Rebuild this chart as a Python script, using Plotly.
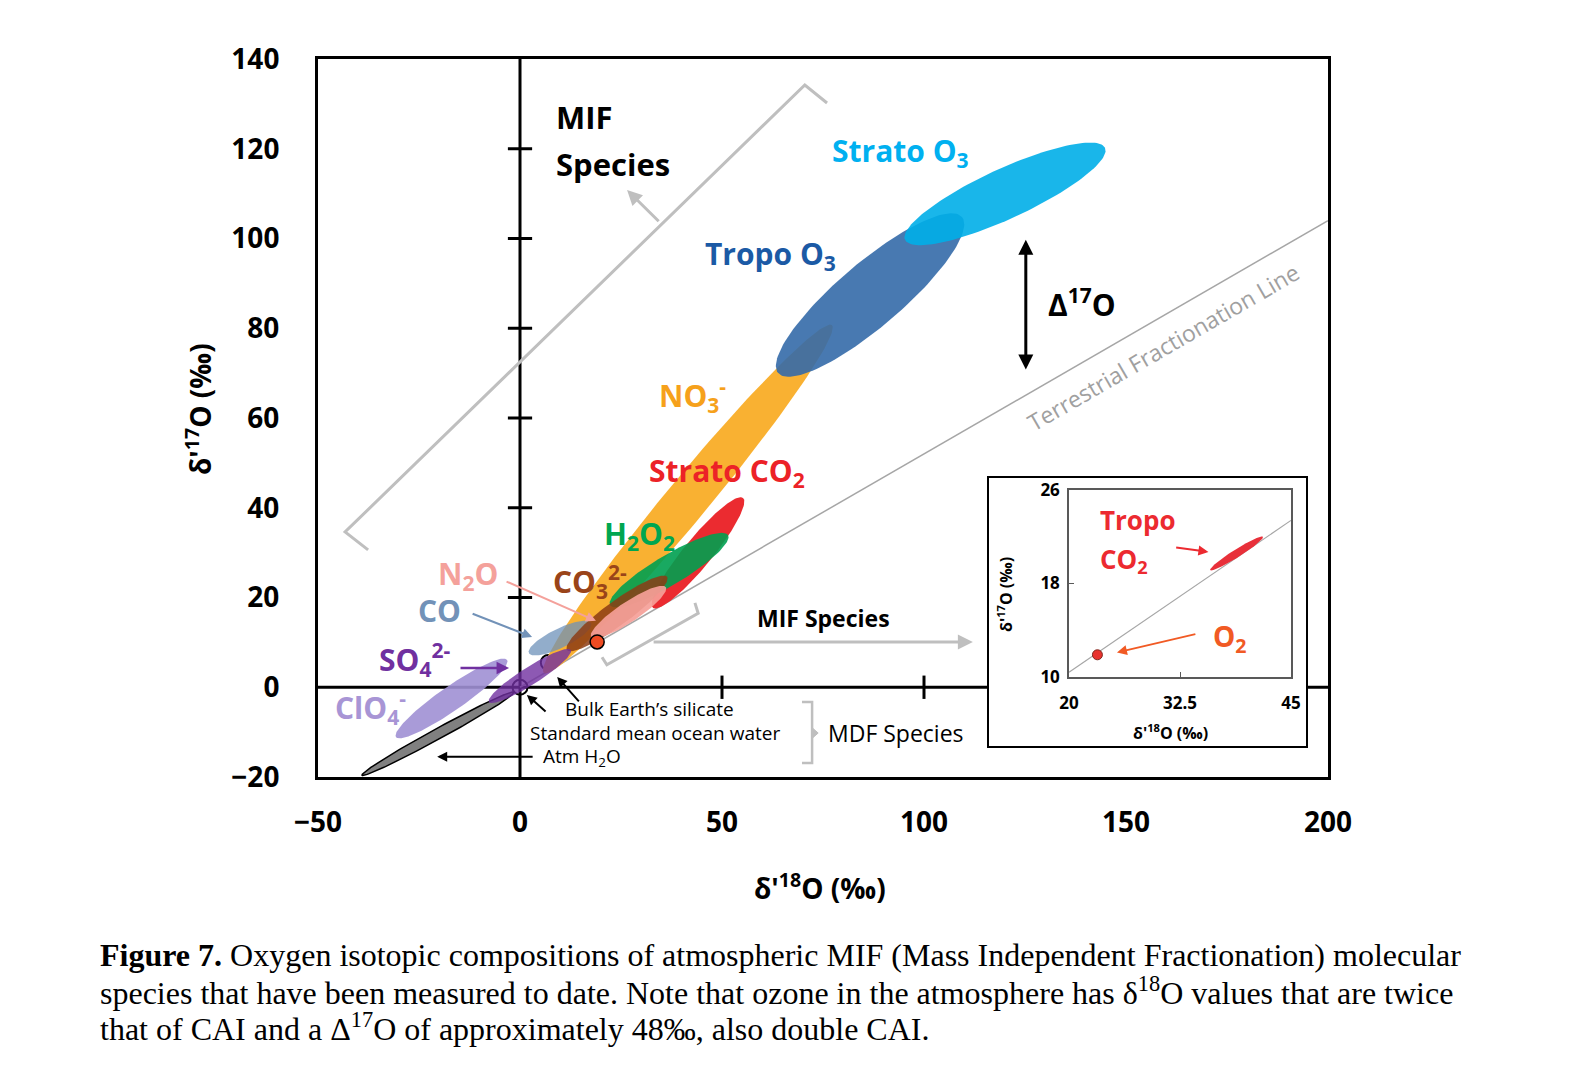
import numpy as np
import plotly.graph_objects as go

# species ellipses: major-axis end points (d18O, d17O) and half width (d18O units)
SPECIES = ["Atm H2O", "ClO4-", "NO3-", "Tropo O3", "Strato O3", "Strato CO2",
           "H2O2", "CO", "CO3 2-", "N2O", "SO4 2-"]
X_START = [-39.1, -30.7, 5.9, 63.9, 95.3, 32.9, 22.3, 2.2, 11.6, 17.6, -7.7]
Y_START = [-19.6, -11.1, 3.2, 70.0, 99.7, 17.7, 18.3, 7.6, 8.3, 11.2, -3.3]
X_END = [-1.5, -3.2, 77.2, 109.4, 144.8, 55.2, 51.5, 17.6, 36.4, 36.1, 12.6]
Y_END = [-1.1, 6.1, 80.7, 104.8, 120.2, 42.2, 33.9, 14.3, 24.6, 22.3, 8.3]
HALF_WIDTH = [1.3, 3.0, 5.2, 7.9, 6.2, 3.5, 3.7, 2.4, 3.0, 2.5, 2.2]

# reference points (SMOW, bulk earth silicate) and O2
REF_X = [0, 7]
REF_Y = [0, 5.5]
O2_X = [19.1]
O2_Y = [10.1]

# terrestrial fractionation line
TFL_X = [0, 200]
TFL_Y = [0, 104]

# inset
INSET_TFL_X = [20, 45]
INSET_TFL_Y = [10.4, 23.4]
INSET_CO2 = [35.9, 19.15, 41.85, 22.0, 0.45]
INSET_O2_X = [23.2]
INSET_O2_Y = [11.9]

X_TICKS = [-50, 0, 50, 100, 150, 200]
Y_TICKS = [-20, 0, 20, 40, 60, 80, 100, 120, 140]
AXIS_X_TICKS = [50, 100]
AXIS_Y_TICKS = [20, 40, 60, 80, 100, 120]
INSET_X_TICKS = [20, 32.5, 45]
INSET_Y_TICKS = [10, 18, 26]

# styles
FILL = ["#808080", "rgba(160,144,212,0.9)", "#F9B132", "rgba(52,106,168,0.9)",
        "rgba(0,174,232,0.9)", "#EB2B30", "rgba(0,160,80,0.9)",
        "rgba(110,145,185,0.75)", "rgba(140,60,20,0.85)",
        "rgba(245,160,152,0.92)", "rgba(112,48,160,0.8)"]
FONT = "Open Sans"

# page pixels of the plot frame; the page body adds an 8px offset
OFF = 8
PL, PR, PT, PB = 318, 1328, 59, 777
W, H = 1585 - OFF, 1092 - OFF
PW, PH = PR - PL, PB - PT
ML, MT = PL - OFF, PT - OFF
MR, MB = W - (PR - OFF), H - (PB - OFF)
K_MAIN = (PH / 160) / (PW / 250)
IN_X = [(1069 - PL) / PW, (1291 - PL) / PW]
IN_Y = [(PB - 677) / PH, (PB - 490) / PH]
K_INSET = (IN_Y[1] - IN_Y[0]) * PH / 16 / ((IN_X[1] - IN_X[0]) * PW / 25)
BOX = [(988 - PL) / PW, (PB - 747) / PH, (1307 - PL) / PW, (PB - 477) / PH]


def ellipse(x0, y0, x1, y1, hw, k, n=140):
    t = np.linspace(0, 2 * np.pi, n)
    cx, cy = (x0 + x1) / 2, (y0 + y1) / 2 * k
    ax, ay = (x1 - x0) / 2, (y1 - y0) / 2 * k
    L = np.hypot(ax, ay)
    nx, ny = -ay / L * hw, ax / L * hw
    xs = cx + ax * np.cos(t) + nx * np.sin(t)
    ys = (cy + ay * np.cos(t) + ny * np.sin(t)) / k
    return xs, ys


def paper(px, py):
    return (px - PL) / PW, (PB - py) / PH


fig = go.Figure()

fig.add_trace(go.Scatter(x=TFL_X, y=TFL_Y, mode="lines",
                         line=dict(color="#A6A6A6", width=1.5)))

for i, name in enumerate(SPECIES):
    xs, ys = ellipse(X_START[i], Y_START[i], X_END[i], Y_END[i], HALF_WIDTH[i], K_MAIN)
    line = dict(color="black", width=1.5) if name == "Atm H2O" else dict(width=0)
    fig.add_trace(go.Scatter(x=xs, y=ys, mode="lines", fill="toself",
                             fillcolor=FILL[i], line=line, name=name))
    if name == "Atm H2O":
        fig.add_trace(go.Scatter(x=REF_X, y=REF_Y, mode="markers",
                                 marker=dict(symbol="circle-open", size=15,
                                             color="black", line=dict(width=2))))

fig.add_trace(go.Scatter(x=O2_X, y=O2_Y, mode="markers",
                         marker=dict(size=14, color="#EE4B22",
                                     line=dict(color="black", width=1.5))))

# inset
fig.add_trace(go.Scatter(x=INSET_TFL_X, y=INSET_TFL_Y, mode="lines", xaxis="x2", yaxis="y2",
                         line=dict(color="#A6A6A6", width=1.2)))
xs, ys = ellipse(*INSET_CO2, K_INSET)
fig.add_trace(go.Scatter(x=xs, y=ys, mode="lines", fill="toself", xaxis="x2", yaxis="y2",
                         fillcolor="#E8303A", line=dict(width=0)))
fig.add_trace(go.Scatter(x=INSET_O2_X, y=INSET_O2_Y, mode="markers", xaxis="x2", yaxis="y2",
                         marker=dict(size=10, color="#E8322E",
                                     line=dict(color="#7F2A20", width=1))))

# internal axes with cross ticks
shapes = []
axis_line = dict(color="black", width=3)
shapes.append(dict(type="line", x0=0, x1=0, y0=-20, y1=140, line=axis_line, layer="below"))
brk0 = -50 + BOX[0] * 250
brk1 = -50 + BOX[2] * 250
shapes.append(dict(type="line", x0=-50, x1=brk0, y0=0, y1=0, line=axis_line, layer="below"))
shapes.append(dict(type="line", x0=brk1, x1=200, y0=0, y1=0, line=axis_line, layer="below"))
for v in AXIS_Y_TICKS:
    shapes.append(dict(type="line", x0=-3, x1=3, y0=v, y1=v, line=axis_line, layer="below"))
for v in AXIS_X_TICKS:
    shapes.append(dict(type="line", x0=v, x1=v, y0=-2.6, y1=2.6, line=axis_line, layer="below"))

gray = dict(color="#BFBFBF", width=3)
shapes.append(dict(type="path", path="M -37.6,30.6 L -43.3,34.6 L 70.5,134.2 L 76.0,130.2",
                   line=gray))
shapes.append(dict(type="path", path="M 20.3,6.7 L 21.5,5.0 L 44.1,16.5 L 43.3,18.8",
                   line=gray))
shapes.append(dict(type="path", path="M 69.8,-3.3 L 72.3,-3.3 L 72.3,-16.9 L 69.8,-16.9",
                   line=dict(color="#BFBFBF", width=2.5)))
shapes.append(dict(type="path", path="M 72.3,-9.0 L 73.8,-10.2 L 72.3,-11.4 Z",
                   fillcolor="#BFBFBF", line=dict(color="#BFBFBF", width=1)))
shapes.append(dict(type="rect", xref="paper", yref="paper", x0=BOX[0], y0=BOX[1],
                   x1=BOX[2], y1=BOX[3], line=dict(color="black", width=2),
                   fillcolor="rgba(0,0,0,0)", layer="above"))

ann = []


def label(x, y, text, color, size=30, bold=True, xanchor="center", ref="", **kw):
    ann.append(dict(x=x, y=y, xref="x" + ref, yref="y" + ref, text=text, showarrow=False,
                    xanchor=xanchor, yanchor="middle",
                    font=dict(family=FONT, size=size, color=color,
                              weight="bold" if bold else "normal"), **kw))


def arrow(tx, ty, hx, hy, color, width=2, ref="", side="end", size=1.0):
    ann.append(dict(x=hx, y=hy, ax=tx, ay=ty, xref="x" + ref, yref="y" + ref,
                    axref="x" + ref, ayref="y" + ref, text="", showarrow=True,
                    arrowhead=2, arrowsize=size, arrowwidth=width, arrowcolor=color,
                    arrowside=side))


label(94.1, 119.3, "Strato O<sub>3</sub>", "#00B0F0")
label(61.9, 96.3, "Tropo O<sub>3</sub>", "#1B5AA5")
label(42.6, 65.1, "NO<sub>3</sub><sup>-</sup>", "#F6A11B")
label(51.2, 48.0, "Strato CO<sub>2</sub>", "#EC2227")
label(29.7, 33.9, "H<sub>2</sub>O<sub>2</sub>", "#00A651")
label(-12.9, 25.0, "N<sub>2</sub>O", "#F4A19B")
label(17.3, 23.5, "CO<sub>3</sub><sup>2-</sup>", "#9A4419")
label(-20.0, 17.0, "CO", "#7292B8")
label(-26.2, 6.1, "SO<sub>4</sub><sup>2-</sup>", "#7030A0")
label(-37.1, -4.4, "ClO<sub>4</sub><sup>-</sup>", "#A895D5")
label(8.3, 127.1, "MIF", "black", size=31, xanchor="left")
label(8.3, 116.6, "Species", "black", size=31, xanchor="left")
label(130.2, 85.6, "Δ<sup>17</sup>O", "black", xanchor="left")
label(159.2, 75.8, "Terrestrial Fractionation Line", "#A0A0A0", size=23, bold=False,
      textangle=-30)
label(75.2, 15.4, "MIF Species", "black", size=23)
label(75.7, -10.2, "MDF Species", "black", size=23, bold=False, xanchor="left")
label(10.6, -4.8, "Bulk Earth’s silicate", "black", size=19, bold=False, xanchor="left")
label(2.0, -10.2, "Standard mean ocean water", "black", size=19, bold=False, xanchor="left")
label(5.2, -15.5, "Atm H<sub>2</sub>O", "black", size=19, bold=False, xanchor="left")

arrow(34.7, 103.5, 26.5, 110.8, "#BFBFBF", width=3)
arrow(32.7, 10.1, 112.1, 10.1, "#BFBFBF", width=3)
arrow(125.2, 70.5, 125.2, 99.7, "black", width=3, side="end+start")
arrow(-3.7, 23.7, 18.8, 14.8, "#F4A19B")
arrow(-12.1, 16.5, 3.0, 11.2, "#7292B8")
arrow(-15.1, 4.3, -2.7, 4.3, "#7030A0", width=2.5)
arrow(14.9, -3.5, 9.2, 2.3, "black")
arrow(6.7, -5.7, 1.7, -1.7, "black")
arrow(3.5, -15.5, -20.5, -15.5, "black")

# inset labels
label(23.3, 23.4, "Tropo", "#EC2A30", size=26, xanchor="left", ref="2")
label(23.3, 20.0, "CO<sub>2</sub>", "#EC2A30", size=26, xanchor="left", ref="2")
label(38.1, 13.3, "O<sub>2</sub>", "#F15A24", size=28, ref="2")
arrow(31.9, 21.1, 35.7, 20.7, "#EC2A30", ref="2")
arrow(34.4, 13.7, 25.4, 12.1, "#F15A24", ref="2")

# axis titles
for (px, py, text, size, angle) in [
        (820, 886, "δ'<sup>18</sup>O (‰)", 28, 0),
        (198, 409, "δ'<sup>17</sup>O (‰)", 28, -90),
        (1170, 732, "δ'<sup>18</sup>O (‰)", 16, 0),
        (1005, 595, "δ'<sup>17</sup>O (‰)", 16, -90)]:
    xp, yp = paper(px, py)
    ann.append(dict(x=xp, y=yp, xref="paper", yref="paper", text=text, showarrow=False,
                    xanchor="center", yanchor="middle", textangle=angle,
                    font=dict(family=FONT, size=size, color="black", weight="bold")))

# caption
caption = [
    "<b>Figure 7.</b> Oxygen isotopic compositions of atmospheric MIF (Mass Independent Fractionation) molecular",
    "species that have been measured to date. Note that ozone in the atmosphere has δ<sup>18</sup>O values that are twice",
    "that of CAI and a Δ<sup>17</sup>O of approximately 48‰, also double CAI.",
]
for text, py in zip(caption, [955, 991, 1027]):
    xp, yp = paper(98, py)
    ann.append(dict(x=xp, y=yp, xref="paper", yref="paper", text=text, showarrow=False,
                    xanchor="left", yanchor="middle",
                    font=dict(family="Liberation Serif", size=32, color="black")))

tickfont = dict(family=FONT, size=28, color="black", weight="bold")
fig.update_layout(
    width=W, height=H, margin=dict(l=ML, r=MR, t=MT, b=MB),
    paper_bgcolor="white", plot_bgcolor="white", showlegend=False,
    xaxis=dict(range=[-50, 200], tickvals=X_TICKS, showgrid=False, zeroline=False,
               showline=True, mirror=True, linecolor="black", linewidth=3, ticks="",
               tickfont=tickfont, ticklabelstandoff=18),
    yaxis=dict(range=[-20, 140], tickvals=Y_TICKS, showgrid=False, zeroline=False,
               showline=True, mirror=True, linecolor="black", linewidth=3, ticks="",
               tickfont=tickfont, ticklabelstandoff=30),
    xaxis2=dict(domain=IN_X, anchor="y2", range=[20, 45], tickvals=INSET_X_TICKS,
                showgrid=False, zeroline=False, showline=True, mirror=True,
                linecolor="#595959", linewidth=1.5, ticks="inside", ticklen=5,
                tickcolor="#595959", ticklabelstandoff=10,
                tickfont=dict(family=FONT, size=17, color="black", weight="bold")),
    yaxis2=dict(domain=IN_Y, anchor="x2", range=[10, 26], tickvals=INSET_Y_TICKS,
                showgrid=False, zeroline=False, showline=True, mirror=True,
                linecolor="#595959", linewidth=1.5, ticks="inside", ticklen=5,
                tickcolor="#595959", ticklabelstandoff=4,
                tickfont=dict(family=FONT, size=17, color="black", weight="bold")),
    shapes=shapes, annotations=ann,
)

fig.write_html("out.html")
